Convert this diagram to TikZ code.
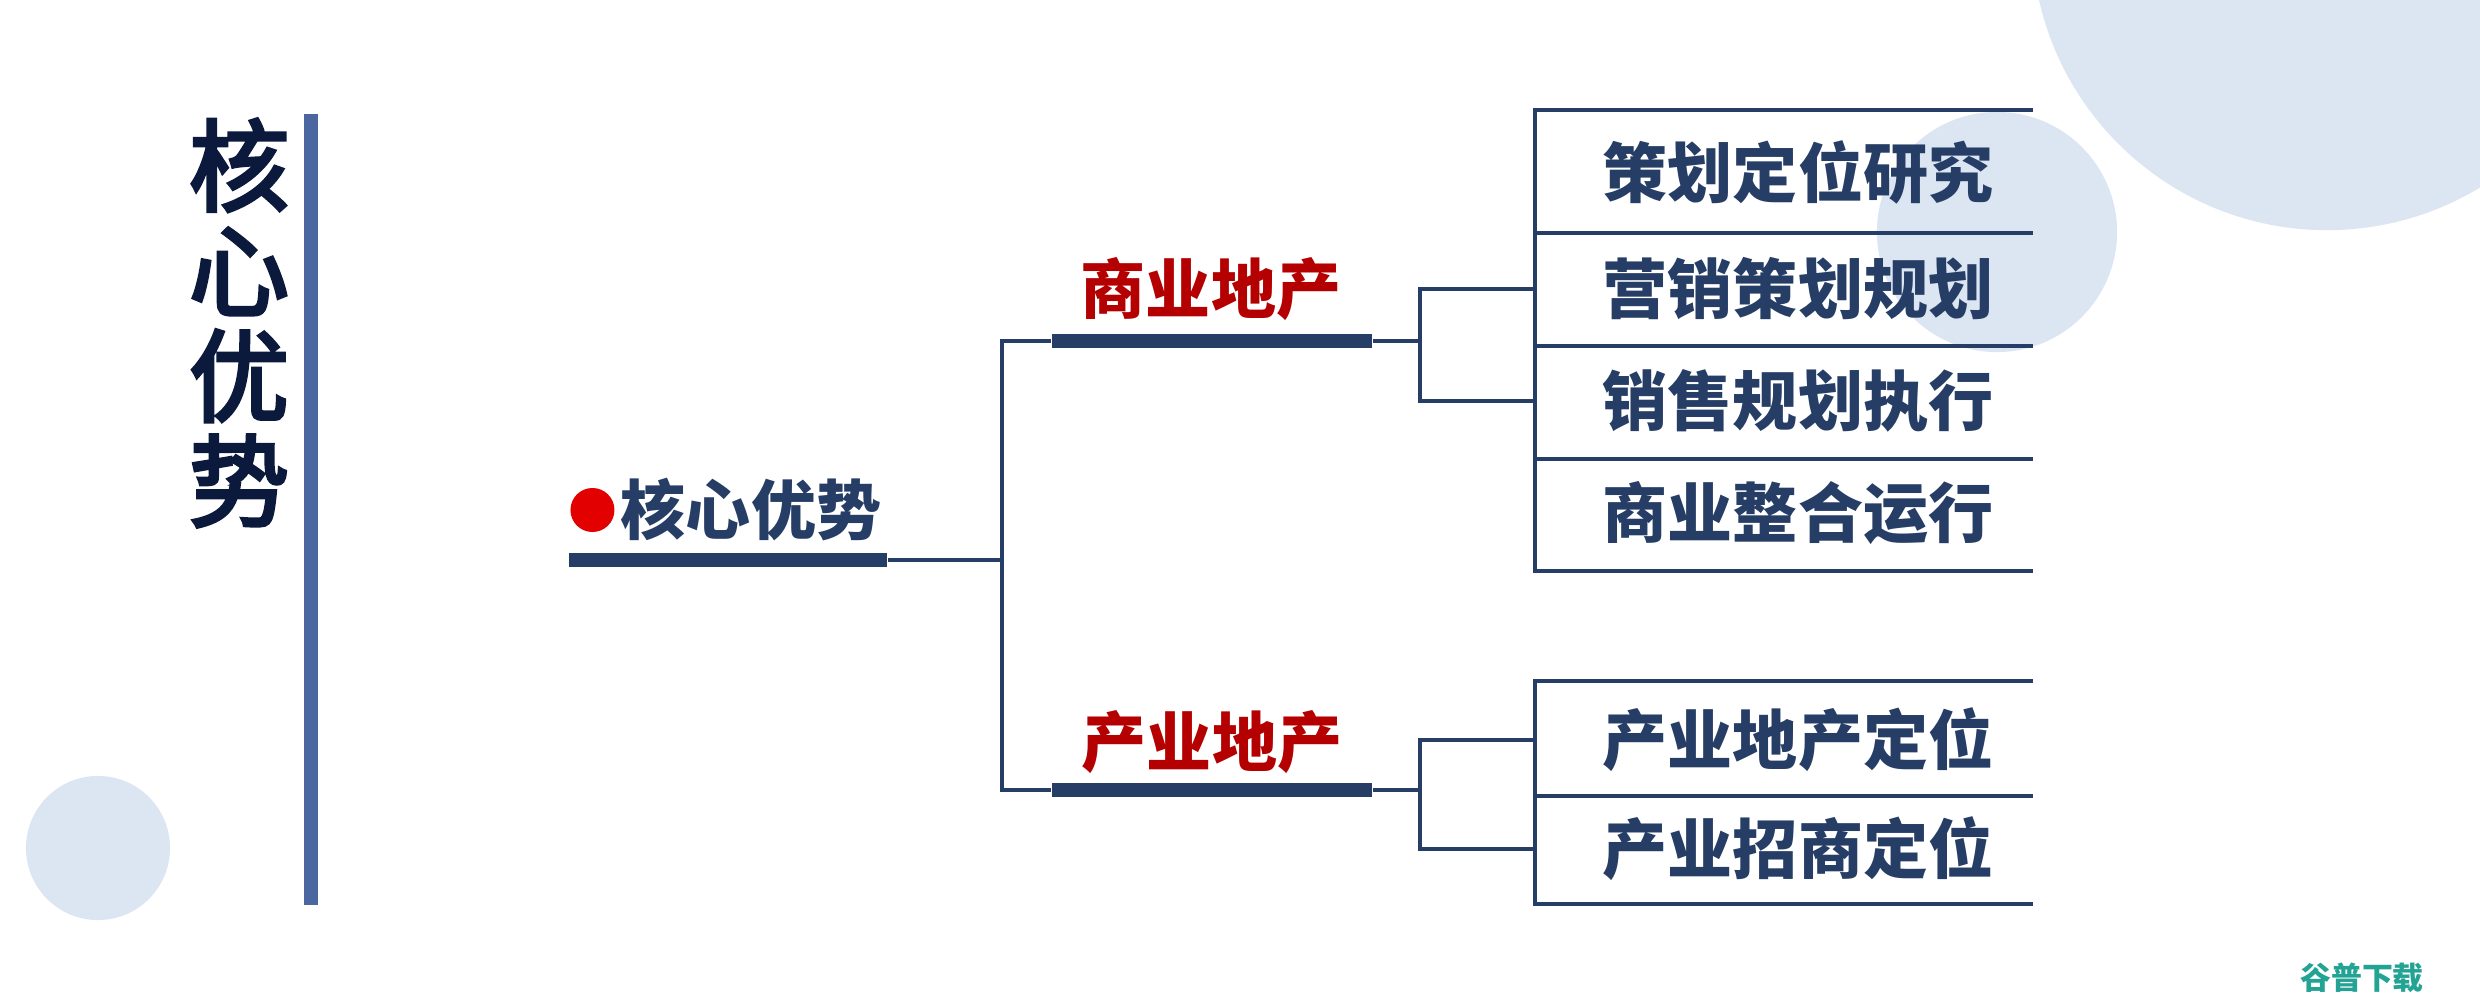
\documentclass[tikz,border=0pt]{standalone}
\usepackage{fontspec}
\setmainfont{Noto Sans CJK SC}
\newfontfamily\titlefont[FakeBold=3.5]{Noto Sans CJK SC}
\usetikzlibrary{positioning}
\definecolor{navy}{HTML}{263D66}
\definecolor{inknavy}{HTML}{0B1A3C}
\definecolor{sidebar}{HTML}{4A67A0}
\definecolor{paleblue}{HTML}{DCE6F2}
\definecolor{darkred}{HTML}{B40000}
\definecolor{dotred}{HTML}{E30000}
\definecolor{markteal}{HTML}{22A394}
\tikzset{
    x=0.01cm, y=-0.01cm, % one unit is one pixel of the slide, y runs down
    link/.style={draw=navy, line width=0.045cm}, % the thin connecting lines
    bar/.style={fill=navy, minimum width=3.2cm, minimum height=0.145cm, inner sep=0pt}, % thick line under a heading
    leaf/.style={text=navy, inner sep=0pt, font=\bfseries\fontsize{18.5}{20}\selectfont}, % text in the right hand boxes
    branch/.style={text=darkred, inner sep=0pt, font=\bfseries\fontsize{18.5}{20}\selectfont}, % red headings
    bubble/.style={fill=paleblue, draw=none}, % pale circles behind
}

\begin{document}
\begin{tikzpicture}
    \clip (0,0) rectangle (2480,1000);
    \fill[white] (0,0) rectangle (2480,1000);
    % background circles
    \fill[bubble] (2327,-65) circle (2.95cm);
    \fill[bubble] (1997,232) circle (1.2cm);
    \fill[bubble] (98,848) circle (0.72cm);

    % title on the left
    \node[text=inknavy, align=center, inner sep=0pt,
          font=\titlefont\fontsize{28.5}{29.9}\selectfont] (title) at (239,323) {核\\心\\优\\势};
    \fill[sidebar] (304,114) rectangle (318,905);

    % root
    \node[leaf] (root) at (751,510) {核心优势};
    \node[circle, fill=dotred, minimum size=0.44cm, inner sep=0pt, left=0.05cm of root] (dot) {};
    \node[bar, minimum width=3.18cm] (rootbar) at (728,560) {};

    % two branches
    \node[branch] (b1) at (1211,289) {商业地产};
    \node[bar] (b1bar) at (1212,341) {};
    \node[branch] (b2) at (1212,742) {产业地产};
    \node[bar] (b2bar) at (1212,790) {};

    % columns of the tree
    \coordinate (trunk) at (1002,0);
    \coordinate (colA) at (1420,0);
    \coordinate (gridL) at (1535,0);

    % leaves
    \node[leaf] (l1) at (1798,172) {策划定位研究};
    \node[leaf] (l2) at (1798,289) {营销策划规划};
    \node[leaf] (l3) at (1798,401) {销售规划执行};
    \node[leaf] (l4) at (1798,513) {商业整合运行};
    \node[leaf] (l5) at (1798,740) {产业地产定位};
    \node[leaf] (l6) at (1798,849) {产业招商定位};

    % boxes round the leaves
    \draw[link] (1535,110) -- (1535,571);
    \draw[link] (1535,681) -- (1535,904);
    \foreach \y in {110,233,346,459,571,681,796,904}
        \draw[link] (1533,\y) -- (2033,\y);

    % connectors
    \draw[link] (rootbar.east) -- (rootbar.east -| trunk);
    \draw[link] (b1bar.west) -| (rootbar.east -| trunk) |- (b2bar.west);
    \draw[link] (b1bar.east) -- (b1bar.east -| colA);
    \draw[link] (l2.west -| gridL) -| (b1bar.east -| colA) |- (l3.west -| gridL);
    \draw[link] (b2bar.east) -- (b2bar.east -| colA);
    \draw[link] (l5.west -| gridL) -| (b2bar.east -| colA) |- (l6.west -| gridL);

    % watermark
    \node[text=markteal, inner sep=0pt, font=\bfseries\fontsize{8.8}{9}\selectfont] (mark) at (2362,978) {谷普下载};
\end{tikzpicture}
\end{document}
